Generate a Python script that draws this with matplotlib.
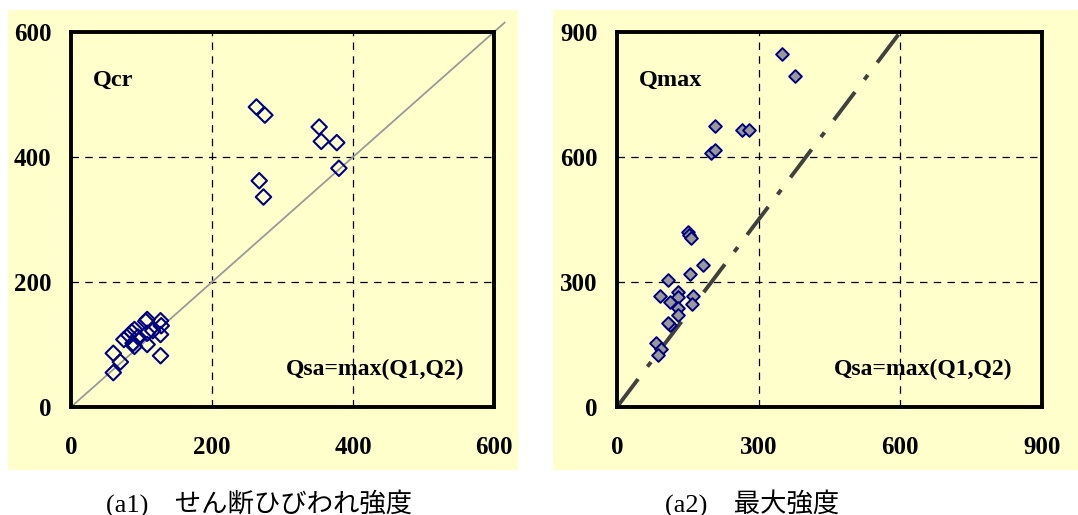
import matplotlib
matplotlib.use("Agg")
import matplotlib.pyplot as plt
from matplotlib.patches import Rectangle

# (a1) shear cracking strength: Qsa (x) vs Qcr (y)
qcr_x = [263, 275, 352, 355, 377, 380, 267, 273,
         60, 60, 70, 75, 82, 86, 90, 88, 90, 108, 106, 108, 108,
         127, 128, 127, 127, 116, 95]
qcr_y = [480, 467, 448, 425, 423, 382, 362, 336,
         86, 55, 72, 108, 115, 120, 124, 102, 97, 140, 137, 118, 100,
         138, 130, 116, 82, 122, 112]

# (a2) maximum strength: Qsa (x) vs Qmax (y)
qmax_x = [350, 377, 208, 265, 279, 199, 208, 150, 153, 156, 183, 154, 108,
          91, 129, 130, 112, 129, 129, 161, 158, 112, 109, 83, 94, 87]
qmax_y = [847, 794, 674, 665, 665, 610, 617, 419, 413, 405, 342, 320, 305,
          266, 277, 263, 253, 237, 222, 266, 247, 197, 201, 153, 140, 125]

left_ticks = [0, 200, 400, 600]
right_ticks = [0, 300, 600, 900]
line_left = [0, 615]          # y = x reference
line_right_x = [0, 600]       # y = 1.5 x reference
line_right_y = [0, 900]

BG = "#FFFFCC"
SERIF = ["Liberation Serif", "DejaVu Serif"]
CAPTION_FONT = ["Liberation Serif", "Noto Sans CJK JP"]

fig = plt.figure(figsize=(10.78, 5.15), dpi=100)
W, H = 1078, 515

# yellow panel backgrounds (pixel boxes -> figure fraction)
for x0, x1 in [(8, 518), (553, 1078)]:
    fig.patches.append(Rectangle((x0 / W, 1 - 470 / H), (x1 - x0) / W, 460 / H,
                                 transform=fig.transFigure, facecolor=BG,
                                 edgecolor="none", zorder=-5))


def setup_axes(ax, ticks, label):
    ax.set_facecolor(BG)
    ax.set_xlim(ticks[0], ticks[-1])
    ax.set_ylim(ticks[0], ticks[-1])
    tick_font = {"family": SERIF, "weight": "bold", "size": 18}
    ax.set_xticks(ticks, labels=[str(t) for t in ticks], fontdict=tick_font)
    ax.set_yticks(ticks, labels=[str(t) for t in ticks], fontdict=tick_font)
    ax.tick_params(length=0)
    ax.tick_params(axis="x", pad=21)
    ax.tick_params(axis="y", pad=14)
    for sp in ax.spines.values():
        sp.set_linewidth(2.8)
        sp.set_color("black")
    ax.grid(True, linestyle=(0, (6, 5)), color="black", linewidth=0.9)
    ax.set_axisbelow(True)
    ax.text(0.052, 0.872, label, transform=ax.transAxes, fontsize=17.5,
            fontweight="bold", family=SERIF, va="center", ha="left")
    ax.text(0.93, 0.10, "Qsa=max(Q1,Q2)", transform=ax.transAxes, fontsize=17,
            fontweight="bold", family=SERIF, va="center", ha="right")


ax1 = fig.add_axes([71 / W, 1 - 407 / H, 423 / W, 375 / H])
setup_axes(ax1, left_ticks, "Qcr")
ax1.plot(line_left, line_left, color="#999999", linewidth=1.3, clip_on=False,
         zorder=2)
ax1.scatter(qcr_x, qcr_y, marker="D", s=62, facecolors="none",
            edgecolors="#000080", linewidths=1.5, zorder=3)

ax2 = fig.add_axes([617 / W, 1 - 407 / H, 425 / W, 375 / H])
setup_axes(ax2, right_ticks, "Qmax")
ax2.plot(line_right_x, line_right_y, color="#404040", linewidth=2.8,
         linestyle=(0, (9, 4, 1.5, 4)), zorder=2)
ax2.scatter(qmax_x, qmax_y, marker="D", s=42, facecolors="#999999",
            edgecolors="#000080", linewidths=1.4, zorder=3)

fig.text(259 / W, 1 - 503 / H, "(a1)\u3000せん断ひびわれ強度", ha="center",
         va="center", fontsize=19, family=CAPTION_FONT)
fig.text(752 / W, 1 - 503 / H, "(a2)\u3000最大強度", ha="center",
         va="center", fontsize=19, family=CAPTION_FONT)

fig.savefig("out.png", dpi=100)
plt.close(fig)
